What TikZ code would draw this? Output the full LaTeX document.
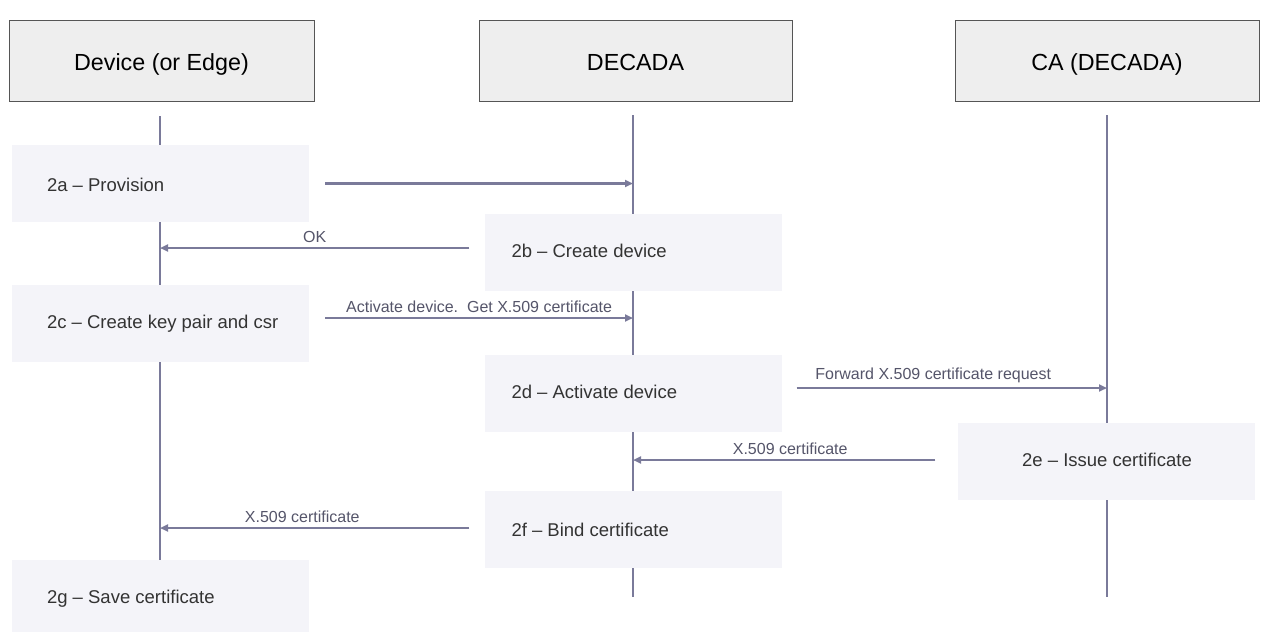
\documentclass[tikz,border=0pt]{standalone}
\usepackage{fontspec}
\setmainfont{Liberation Sans}
\usetikzlibrary{arrows.meta}
\definecolor{lifec}{HTML}{7A7A9A}
\definecolor{stepfill}{HTML}{F4F4F9}
\definecolor{headfill}{HTML}{EEEEEE}
\definecolor{headborder}{HTML}{555555}
\definecolor{steptext}{HTML}{333333}
\definecolor{labtext}{HTML}{55556A}
\tikzset{
  header/.style={draw=headborder, line width=1pt, fill=headfill, minimum height=81pt, inner sep=0pt, text height=20pt, text depth=1pt, font=\fontsize{23.3}{27}\selectfont, text=black},
  stepbox/.style={fill=stepfill, minimum width=297pt, minimum height=77pt, inner sep=0pt},
  steplab/.style={anchor=west, inner sep=0pt, font=\fontsize{18.5}{22}\selectfont, text=steptext},
  lifeline/.style={draw=lifec, line width=2.4pt},
  msg/.style={draw=lifec, line width=2.4pt, -{Triangle[length=8pt,width=7pt]}},
  msglab/.style={font=\fontsize{16}{19}\selectfont, text=labtext, inner sep=1pt, above=3pt}
}
\begin{document}
\begin{tikzpicture}[x=1pt,y=-1pt]
\useasboundingbox[fill=white] (0,0) rectangle (1264,632);
% headers
\node[header, minimum width=305pt] (hdev) at (161.5,60.5) {Device (or Edge)};
\node[header, minimum width=313pt] (hdec) at (635.5,60.5) {DECADA};
\node[header, minimum width=304pt] (hca) at (1107,60.5) {CA (DECADA)};
% lifelines
\coordinate (devtop) at (160,116);
\coordinate (devbot) at (160,560);
\coordinate (dectop) at (633,115);
\coordinate (decbot) at (633,597);
\coordinate (catop) at (1107,115);
\coordinate (cabot) at (1107,597);
\draw[lifeline] (devtop) -- (devbot);
\draw[lifeline] (dectop) -- (decbot);
\draw[lifeline] (catop) -- (cabot);
% steps
\node[stepbox] (s2a) at (160.5,183.5) {};
\node[steplab] (t2a) at ([xshift=35pt,yshift=-1pt]s2a.west) {2a -- Provision};
\node[stepbox] (s2b) at (633,252) {};
\node[steplab] (t2b) at ([xshift=27pt,yshift=1pt]s2b.west) {2b -- Create device};
\node[stepbox] (s2c) at (160.5,323.5) {};
\node[steplab] (t2c) at ([xshift=35pt]s2c.west) {2c -- Create key pair and csr};
\node[stepbox] (s2d) at (633,393.5) {};
\node[steplab] (t2d) at ([xshift=27pt,yshift=2pt]s2d.west) {2d -- Activate device};
\node[stepbox] (s2e) at (1106,461.5) {};
\node[steplab, anchor=center] (t2e) at ([xshift=1pt,yshift=2pt]s2e.center) {2e -- Issue certificate};
\node[stepbox] (s2f) at (633,529.5) {};
\node[steplab] (t2f) at ([xshift=27pt]s2f.west) {2f -- Bind certificate};
\node[stepbox] (s2g) at (160.5,598.5) {};
\node[steplab] (t2g) at ([xshift=35pt]s2g.west) {2g -- Save certificate};
% messages
\coordinate (provstart) at ([xshift=16pt]s2a.east);
\draw[msg] (provstart) -- (provstart -| dectop);
\coordinate (okstart) at ([xshift=-15pt,yshift=4pt]s2b.west);
\draw[msg] (okstart) -- (okstart -| devtop) node[msglab, pos=0.5] {OK};
\coordinate (actstart) at ([xshift=16pt,yshift=5.5pt]s2c.east);
\draw[msg] (actstart) -- (actstart -| dectop) node[msglab, midway] {Activate device.\ \ Get X.509 certificate};
\coordinate (fwdstart) at ([xshift=15pt,yshift=5.5pt]s2d.east);
\draw[msg] (fwdstart) -- (fwdstart -| catop) node[msglab, pos=0.44] {Forward X.509 certificate request};
\coordinate (certstart) at ([xshift=-22pt,yshift=1.5pt]s2e.west);
\draw[msg] (certstart) -- (certstart -| dectop) node[msglab, pos=0.48] {X.509 certificate};
\coordinate (bindstart) at ([xshift=-15pt,yshift=1.5pt]s2f.west);
\draw[msg] (bindstart) -- (bindstart -| devtop) node[msglab, pos=0.54] {X.509 certificate};
\end{tikzpicture}
\end{document}
